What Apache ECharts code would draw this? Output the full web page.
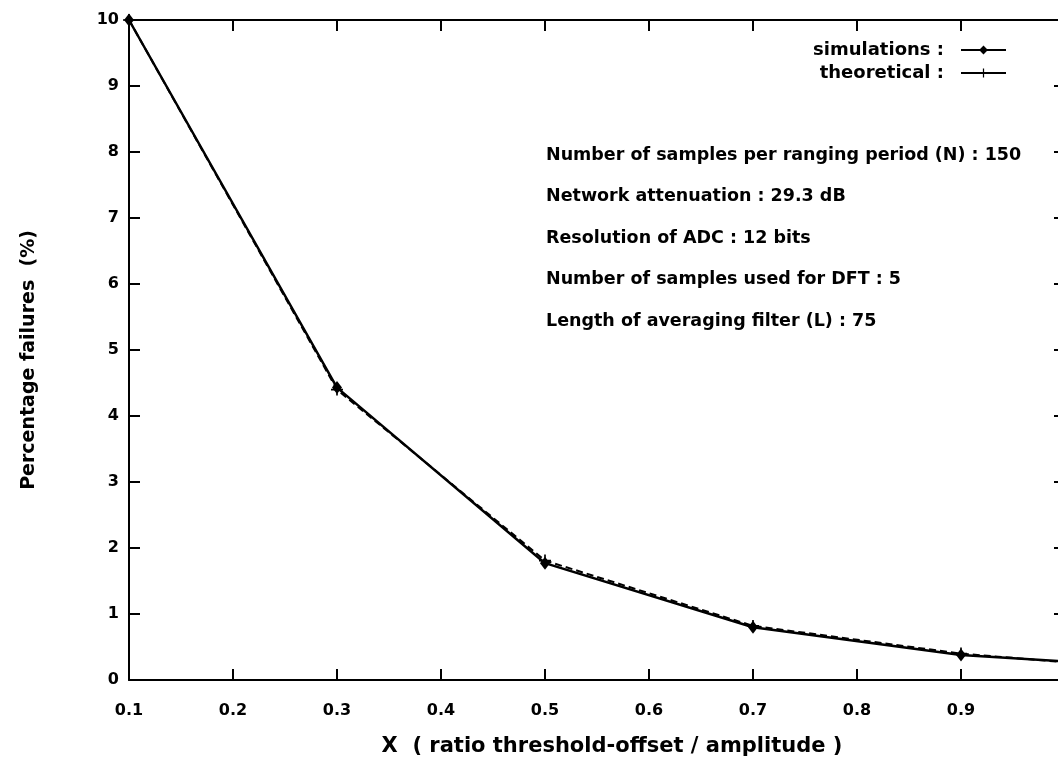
<!DOCTYPE html>
<html>
<head>
<meta charset="utf-8">
<script src="https://cdn.jsdelivr.net/npm/echarts@6/dist/echarts.min.js"></script>
<style>
  html, body { margin: 0; padding: 0; background: #fff; }
  #chart { width: 1058px; height: 767px; }
</style>
</head>
<body>
<div id="chart"></div>
<script>
// x values (ratio threshold-offset / amplitude)
const xValues = [0.1, 0.3, 0.5, 0.7, 0.9, 1.0]
// percentage failures
const simulations = [10.0, 4.43, 1.77, 0.80, 0.38, 0.28]
const theoretical = [10.0, 4.40, 1.81, 0.82, 0.40, 0.27]
// parameter notes
const notes = [
  'Number of samples per ranging period (N) : 150',
  'Network attenuation : 29.3 dB',
  'Resolution of ADC : 12 bits',
  'Number of samples used for DFT : 5',
  'Length of averaging filter (L) : 75'
]

const font = '"DejaVu Sans", Verdana, sans-serif'
const plus = 'path://M4.3,0h1.4v4.3h4.3v1.4h-4.3v4.3h-1.4v-4.3h-4.3v-1.4h4.3z'

let chart = echarts.init(document.getElementById('chart'))

//公共坐标轴样式
const axisCommon = {
  axisLine: { show: true, onZero: false, lineStyle: { color: '#000', width: 2 } },
  axisTick: { show: true, inside: true, length: 11, lineStyle: { color: '#000', width: 2 } },
  splitLine: { show: false },
}

let option = {
  animation: false,
  backgroundColor: '#fff',
  // 右边框在画面之外
  grid: { left: 129, width: 936, top: 20, bottom: 87, outerBoundsMode: 'none', containLabel: false },
  legend: {
    orient: 'vertical',
    right: 46,
    top: 36,
    align: 'right',
    itemGap: 5,
    itemWidth: 45,
    itemHeight: 11,
    formatter: '{name} :',
    textStyle: { fontFamily: font, fontWeight: 'bold', fontSize: 18, color: '#000', padding: [0, 12, 0, 0] },
    data: [
      { name: 'simulations' },
      { name: 'theoretical', lineStyle: { type: 'solid' } },
    ],
  },
  xAxis: [
    {
      type: 'value',
      position: 'bottom',
      min: 0.1,
      max: 1.0,
      interval: 0.1,
      ...axisCommon,
      axisLabel: {
        showMaxLabel: false,
        margin: 23,
        color: '#000',
        fontFamily: font,
        fontWeight: 'bold',
        fontSize: 16,
        formatter: v => v.toFixed(1),
      },
      name: 'X  ( ratio threshold-offset / amplitude )',
      nameLocation: 'middle',
      nameGap: 56,
      nameTextStyle: { color: '#000', fontFamily: font, fontWeight: 'bold', fontSize: 21, padding: [0, 0, 0, 30] },
    },
    {
      type: 'value',
      position: 'top',
      min: 0.1,
      max: 1.0,
      interval: 0.1,
      ...axisCommon,
      axisLabel: { show: false },
    },
  ],
  yAxis: [
    {
      type: 'value',
      position: 'left',
      min: 0,
      max: 10,
      interval: 1,
      ...axisCommon,
      axisLabel: {
        margin: 10,
        color: '#000',
        fontFamily: font,
        fontWeight: 'bold',
        fontSize: 16,
      },
      name: 'Percentage failures  (%)',
      nameLocation: 'middle',
      nameGap: 90,
      nameTextStyle: { color: '#000', fontFamily: font, fontWeight: 'bold', fontSize: 19, padding: [0, 20, 0, 0] },
    },
    {
      type: 'value',
      position: 'right',
      min: 0,
      max: 10,
      interval: 1,
      ...axisCommon,
      axisLabel: { show: false },
    },
  ],
  graphic: notes.map((t, i) => ({
    type: 'text',
    left: 546,
    top: 146 + i * 41.5,
    style: { text: t, fill: '#000', font: 'bold 17.5px ' + font },
  })),
  series: [
    {
      name: 'theoretical',
      type: 'line',
      data: xValues.map((x, i) => [x, theoretical[i]]),
      symbol: plus,
      symbolSize: 12,
      lineStyle: { color: '#000', width: 2, type: [7, 4] },
      itemStyle: { color: '#000' },
      z: 2,
    },
    {
      name: 'simulations',
      type: 'line',
      data: xValues.map((x, i) => [x, simulations[i]]),
      symbol: 'diamond',
      symbolSize: [10, 13],
      lineStyle: { color: '#000', width: 2.5 },
      itemStyle: { color: '#000' },
      z: 3,
    },
  ],
}
chart.setOption(option)
</script>
</body>
</html>
